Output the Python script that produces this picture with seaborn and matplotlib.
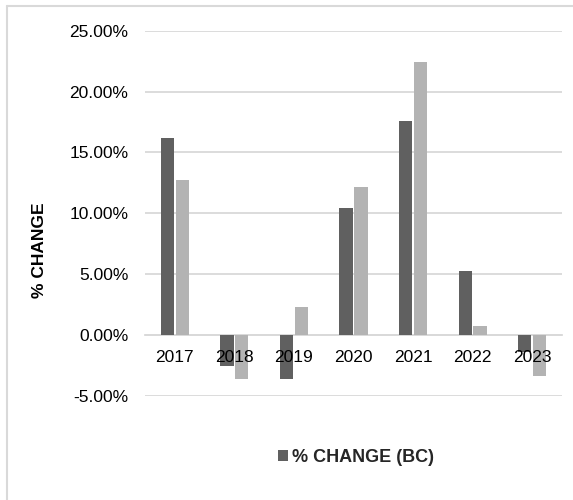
import matplotlib
matplotlib.use("Agg")
import matplotlib.pyplot as plt
from matplotlib.patches import Patch
from matplotlib.lines import Line2D
import pandas as pd
import seaborn as sns

# Year-over-year percentage change
years = ["2017", "2018", "2019", "2020", "2021", "2022", "2023"]
bc_change = [16.16, -2.52, -3.62, 10.46, 17.56, 5.28, -1.37]
comparison_change = [12.71, -3.62, 2.27, 12.19, 22.46, 0.77, -3.34]
series_names = ["% CHANGE (BC)", "% CHANGE (COMPARISON)"]
y_ticks = [-5, 0, 5, 10, 15, 20, 25]

df = pd.DataFrame({
    "year": years * 2,
    "change": bc_change + comparison_change,
    "series": [series_names[0]] * len(years) + [series_names[1]] * len(years),
})

sns.set_theme(style="white")
plt.rcParams["font.family"] = ["Liberation Sans", "DejaVu Sans"]

W, H = 573, 500
fig = plt.figure(figsize=(W / 100, H / 100), dpi=100)
ax = fig.add_axes([145 / W, 1 - 396 / H, (562 - 145) / W, (396 - 30.7) / H])

colors = ["#606060", "#b3b3b3"]
sns.barplot(data=df, x="year", y="change", hue="series", order=years,
            hue_order=series_names, palette=colors, width=0.5, gap=0.11,
            linewidth=0, legend=False, ax=ax, zorder=2)

ax.set_ylim(-5, 25)
ax.set_yticks(y_ticks)
ax.set_yticklabels([f"{v:.2f}%" for v in y_ticks])
ax.yaxis.grid(True, color="#d9d9d9", linewidth=1.3)
ax.set_axisbelow(True)
# year labels sit on top of the bars they overlap
ax.xaxis.set_zorder(5)

for side in ["top", "right", "left"]:
    ax.spines[side].set_visible(False)
ax.spines["bottom"].set_position(("data", 0))
ax.spines["bottom"].set_color("#d9d9d9")
ax.spines["bottom"].set_linewidth(1.3)
ax.spines["bottom"].set_zorder(1)

ax.tick_params(axis="both", length=0, labelsize=12.5, labelcolor="#000000")
ax.tick_params(axis="y", pad=12)
ax.tick_params(axis="x", pad=11)

ax.set_xlabel("")
ax.set_ylabel("% CHANGE", fontsize=12.5, fontweight="bold", color="#000000")
ax.yaxis.set_label_coords((47 - 145) / (562 - 145), (396 - 250) / (396 - 30.7))

handle = Patch(facecolor=colors[0], edgecolor="none")
fig.legend([handle], [series_names[0]], loc="center",
           bbox_to_anchor=(356 / W, 1 - 457 / H), frameon=False,
           handlelength=0.55, handleheight=0.55, handletextpad=0.25,
           prop={"weight": "bold", "size": 13})

# light chart-area border along the top and left edges
fig.add_artist(Line2D([6.5 / W, 6.5 / W], [0, 1 - 5.5 / H], transform=fig.transFigure,
                      color="#d9d9d9", linewidth=1.5))
fig.add_artist(Line2D([6.5 / W, 1], [1 - 5.5 / H, 1 - 5.5 / H], transform=fig.transFigure,
                      color="#d9d9d9", linewidth=1.5))

fig.savefig("out.png", dpi=100)
